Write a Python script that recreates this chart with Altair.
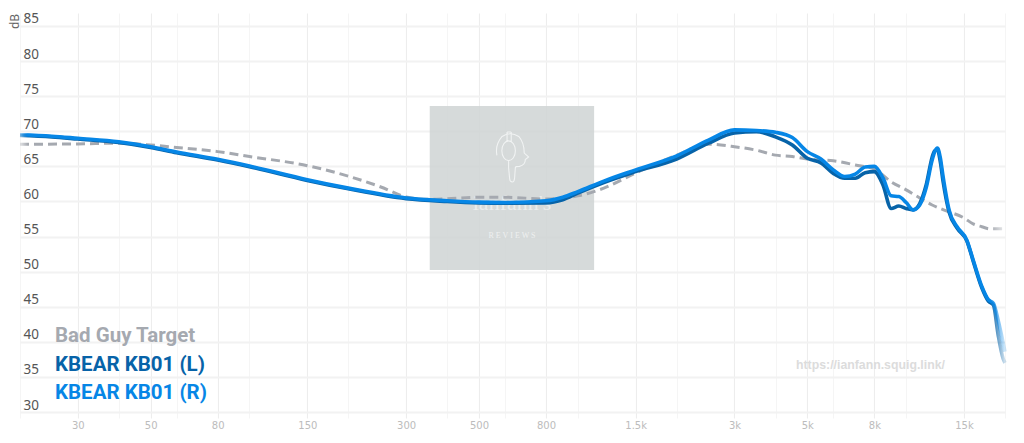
import altair as alt
import pandas as pd

freq_lr = [20,25,30,40,50,60,80,100,150,200,300,400,500,600,800,900,1000,1200,1500,2000,2500,3000,3500,4000,4500,5000,5500,6000,6500,7000,7500,8000,8500,9000,9500,10000,10500,11000,11500,12000,12200,12450,12700,12960,13510,14290,15300,16000,17000,17800,18440,19060,19740,20000]
left_db = [69.4,69.2,68.9,68.4,67.7,66.95,65.9,64.95,63.0,61.8,60.4,60.0,59.8,59.75,59.8,60.25,61.2,62.7,64.25,66.05,68.3,69.75,69.95,69.2,68.05,66.15,65.5,64.0,63.3,63.3,64.1,64.25,62.35,59.0,59.35,59.0,58.8,59.7,62.3,66.3,67.2,67.4,65.7,62.8,58.5,56.2,54.4,51.5,47.7,45.8,45.25,41.0,37.6,37.0]
right_db = [69.5,69.3,69.0,68.5,67.8,67.05,66.0,65.05,63.1,61.9,60.5,60.1,59.9,59.85,60.1,60.6,61.4,62.9,64.5,66.5,68.75,70.2,70.1,69.85,69.1,67.1,66.05,64.5,63.55,63.9,64.9,65.0,63.35,60.8,60.7,59.85,58.8,59.5,61.9,65.9,67.0,67.6,66.3,63.5,58.8,56.4,54.5,51.67,47.9,46.0,45.5,43.1,39.9,38.6]
freq_target = [20,30,40,50,60,80,100,150,200,250,300,350,400,500,600,800,1000,1200,1500,2000,2500,3000,3500,4000,4500,5000,6000,7000,8000,9000,10000,11000,12000,13000,15000,16000,17000,18000,20000]
target_db = [68.15,68.2,68.3,68.05,67.7,67.1,66.4,65.1,63.6,62.1,60.65,60.3,60.4,60.6,60.6,60.35,60.8,61.9,64.05,66.6,68.15,67.8,67.3,66.6,66.4,66.05,65.8,65.2,64.6,62.8,61.65,60.5,59.5,58.8,57.65,56.8,56.4,56.1,56.1]

major_ticks = [30,50,80,150,300,500,800,1500,3000,5000,8000,15000]
minor_ticks = [20,40,60,100,200,400,600,1000,2000,4000,6000,10000,20000]
y_ticks = [30,35,40,45,50,55,60,65,70,75,80,85]

legend_names = ["Bad Guy Target", "KBEAR KB01 (L)", "KBEAR KB01 (R)"]
legend_colors = ["#a5a9b0", "#0763a8", "#0686e6"]
legend_y = [329, 358, 386]

X = alt.X("f:Q", scale=alt.Scale(type="log", domain=[20, 20000], nice=False),
          axis=alt.Axis(values=sorted(major_ticks + minor_ticks), title=None, domain=False, ticks=False,
                        labelExpr="indexof(%s, datum.value) < 0 ? '' : (datum.value >= 1000 ? datum.value / 1000 + 'k' : datum.value)" % major_ticks,
                        labelFont="DejaVu Sans", labelFontSize=10, labelColor="#bcbcbc", labelPadding=2,
                        labelOverlap=False, labelFlush=False,
                        gridColor=alt.condition("indexof(%s, datum.value) >= 0" % major_ticks, alt.value("#ededed"), alt.value("#f5f5f5")),
                        gridWidth=1.1))
Y = alt.Y("db:Q", scale=alt.Scale(domain=[29.15, 86.85], nice=False, zero=False),
          axis=alt.Axis(values=y_ticks, title="dB", titleX=-6, titleY=8, titleAngle=-90, titleFont="Noto Sans",
                        titleFontWeight="normal", titleFontSize=12, titleColor="#666666", titleAlign="center",
                        titleBaseline="middle",
                        domain=False, ticks=False, labelAlign="left", labelBaseline="bottom", labelPadding=-3,
                        labelFont="Noto Sans", labelFontSize=13.5, labelColor="#555555", labelOffset=0,
                        gridColor="#f2f2f2", gridWidth=2.2))


def fade(color, start, end):
    return alt.Gradient(gradient="linear", x1=0, y1=0, x2=1, y2=0, stops=[
        alt.GradientStop(offset=0, color=color + "50"),
        alt.GradientStop(offset=start, color=color),
        alt.GradientStop(offset=end, color=color),
        alt.GradientStop(offset=1, color=color + "30"),
    ])


def curve(freqs, values, color, width=3.6, **kw):
    df = pd.DataFrame({"f": freqs, "db": values})
    return alt.Chart(df).mark_line(color=fade(color, 0.008, 0.985), interpolate="monotone", strokeWidth=width, **kw).encode(x=X, y=Y)


box = alt.Chart(pd.DataFrame({"f": [354], "f2": [1121], "db": [73.6], "db2": [50.24]})).mark_rect(
    color="#cfd4d4", opacity=0.85).encode(x=X, x2="f2:Q", y=Y, y2="db2:Q")

logo_path = ("M-.58,-.06 Q-.66,-.47 -.38,-.79 Q-.06,-1 .26,-.79 Q.47,-.55 .47,-.15 L.64,0 L.51,.1 Q.52,.3 .29,.36 "
             "Q.13,.36 .13,.4 L.1,.81 Q.08,.96 .02,.96 Q-.09,.96 -.09,.84 L-.13,.42 L-.13,.14 "
             "M-.39,-.24 A.26,.38 0 1 1 .13,-.24 A.26,.38 0 1 1 -.39,-.24 "
             "M-.19,-.96 L-.19,-.6 M-.03,-.96 L-.03,-.6 M-.19,-.96 L-.03,-.96")
logo = alt.Chart(pd.DataFrame({"a": [0]})).mark_point(
    shape=logo_path, size=2704, filled=False, stroke="#f4f6f6", strokeWidth=1.1, opacity=0.9
).encode(x=alt.value(492), y=alt.value(144))

wm1 = alt.Chart(pd.DataFrame({"t": ["ianfann's"]})).mark_text(
    font="Liberation Serif", fontSize=22, color="#f2f4f4", opacity=0.75, align="center", baseline="alphabetic"
).encode(x=alt.value(492), y=alt.value(197), text="t:N")
wm2 = alt.Chart(pd.DataFrame({"t": ["R E V I E W S"]})).mark_text(
    font="Liberation Serif", fontSize=8, color="#eef0f0", align="center", baseline="middle"
).encode(x=alt.value(492), y=alt.value(223), text="t:N")

legend = alt.Chart(pd.DataFrame({"t": legend_names, "c": legend_colors, "y": legend_y})).mark_text(
    font="Roboto", fontWeight="bold", fontSize=20.5, align="left", baseline="alphabetic"
).encode(x=alt.value(35), y=alt.Y("y:Q", scale=None, axis=None), text="t:N", color=alt.Color("c:N", scale=None))

url = alt.Chart(pd.DataFrame({"t": ["https://ianfann.squig.link/"]})).mark_text(
    font="Liberation Sans", fontWeight="bold", fontSize=12.3, color="#dcdcdc", align="left", baseline="alphabetic"
).encode(x=alt.value(776), y=alt.value(356), text="t:N")

target = curve(freq_target, target_db, "#a5a9b0", width=3, strokeDash=[9, 5])
line_l = curve(freq_lr, left_db, "#0763a8")
line_r = curve(freq_lr, right_db, "#0686e6")

chart = alt.layer(
    box, wm1, wm2, logo, target, line_l, line_r, url, legend
).properties(
    width=985, height=405,
    autosize=alt.AutoSizeParams(type="none"),
    padding={"left": 12, "top": 5, "right": 4, "bottom": 12},
).configure_view(stroke=None)

chart.save("out.html", embed_options={"renderer": "svg", "actions": False})
